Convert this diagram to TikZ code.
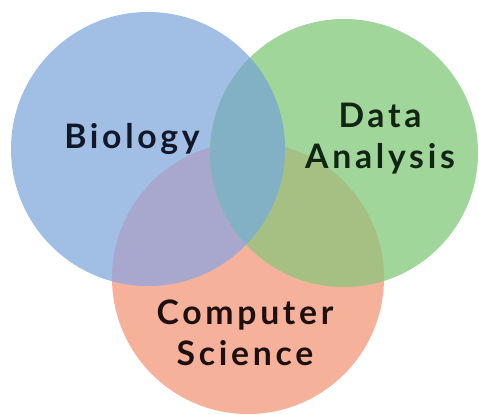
\documentclass[tikz,border=0pt]{standalone}
\usepackage{fontspec}
\setmainfont{Lato}[LetterSpace=11]
\usepackage{tikz}
\usetikzlibrary{positioning}
\definecolor{bioblue}{RGB}{161,191,228}
\definecolor{datagreen}{RGB}{160,214,153}
\definecolor{compred}{RGB}{245,177,154}
\definecolor{bgteal}{RGB}{130,176,196}
\definecolor{brlav}{RGB}{168,168,206}
\definecolor{grolive}{RGB}{166,192,131}
\definecolor{biotext}{RGB}{18,24,40}
\definecolor{datatext}{RGB}{18,36,20}
\definecolor{comptext}{RGB}{30,16,16}

\begin{document}
\begin{tikzpicture}

\useasboundingbox (0,0) rectangle (11.975,10.375);
\fill[white] (0,0) rectangle (11.975,10.375);

% circles
\fill[compred] (6.2,3.425) circle (3.4);
\fill[bioblue] (3.7,6.65) circle (3.425);
\fill[datagreen] (8.6,6.55) circle (3.35);

% overlaps
\begin{scope}
\clip (3.7,6.65) circle (3.425);
\fill[brlav] (6.2,3.425) circle (3.4);
\end{scope}
\begin{scope}
\clip (8.6,6.55) circle (3.35);
\fill[grolive] (6.2,3.425) circle (3.4);
\end{scope}
\begin{scope}
\clip (3.7,6.65) circle (3.425);
\fill[bgteal] (8.6,6.55) circle (3.35);
\end{scope}

% labels
\node[font=\fontsize{24}{29}\selectfont\bfseries, text=biotext] (bio) at (3.3,6.9) {Biology};
\node[font=\fontsize{24}{29}\selectfont\bfseries, text=datatext, align=center] (data) at (9.5,6.91) {Data\\Analysis};
\node[font=\fontsize{24}{29}\selectfont\bfseries, text=comptext, align=center] (comp) at (6.125,2.05) {Computer\\Science};

\end{tikzpicture}
\end{document}
